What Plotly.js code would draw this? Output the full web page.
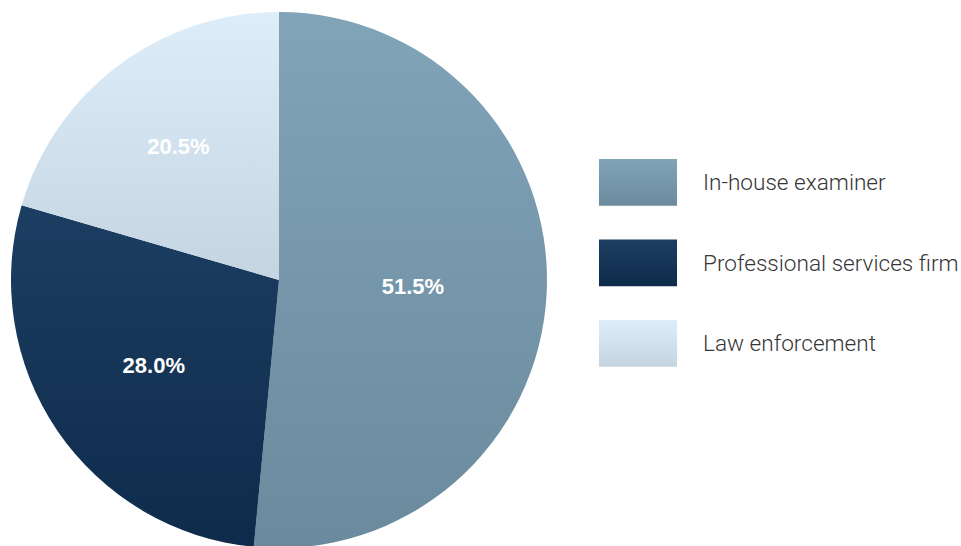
<!DOCTYPE html>
<html>
<head>
<meta charset="utf-8">
<script src="https://cdn.plot.ly/plotly-3.0.1.min.js"></script>
<style>
html,body{margin:0;padding:0;overflow:hidden;background:#fff;}
#chart{width:961px;height:560px;}
</style>
</head>
<body>
<div id="chart"></div>
<script>
// ---- data ----
var categories = ["In-house examiner", "Professional services firm", "Law enforcement"];
var shares = [51.5, 28.0, 20.5];
// gradient colours per category: [top, bottom]
var gradTop = ["#81a4b9", "#1c3e62", "#ddeefa"];
var gradBottom = ["#6b8a9d", "#0e2b4b", "#c4d4e1"];

var W = 961, H = 560;
var px = function (x) { return x / W; };
var py = function (y) { return 1 - y / H; };

var trace = {
  type: "pie",
  labels: categories,
  values: shares,
  sort: false,
  direction: "clockwise",
  rotation: 0,
  domain: { x: [px(11), px(547)], y: [py(548), py(12)] },
  marker: { colors: gradTop, line: { width: 0 } },
  texttemplate: "%{percent:.1%}",
  textposition: "inside",
  insidetextorientation: "horizontal",
  textfont: { family: "Liberation Sans, Arial, sans-serif", size: 22, color: "#ffffff", weight: "bold" },
  hoverinfo: "none",
  showlegend: false
};

var shapes = [], annotations = [];
categories.forEach(function (c, i) {
  var top = 159 + i * 80.5;
  shapes.push({
    type: "rect", xref: "paper", yref: "paper",
    x0: px(599), x1: px(677), y0: py(top + 46.7), y1: py(top),
    fillcolor: gradTop[i], line: { width: 0 }
  });
  annotations.push({
    xref: "paper", yref: "paper", x: px(701), y: py(top + 23.5),
    xanchor: "left", yanchor: "middle", showarrow: false,
    text: c,
    font: { family: "Roboto, Liberation Sans, sans-serif", size: 22.6, color: "#363636", weight: 300 }
  });
});

var layout = {
  width: W, height: H,
  margin: { l: 0, r: 0, t: 0, b: 0, pad: 0 },
  paper_bgcolor: "#ffffff",
  plot_bgcolor: "#ffffff",
  showlegend: false,
  shapes: shapes,
  annotations: annotations
};

Plotly.newPlot("chart", [trace], layout, { displayModeBar: false, staticPlot: true }).then(function (gd) {
  var svg = gd.querySelector("svg.main-svg");
  var ns = "http://www.w3.org/2000/svg";
  var defs = svg.querySelector("defs") || svg.insertBefore(document.createElementNS(ns, "defs"), svg.firstChild);
  categories.forEach(function (c, i) {
    var lg = document.createElementNS(ns, "linearGradient");
    lg.setAttribute("id", "grad" + i);
    lg.setAttribute("x1", "0"); lg.setAttribute("y1", "0");
    lg.setAttribute("x2", "0"); lg.setAttribute("y2", "1");
    var s1 = document.createElementNS(ns, "stop");
    s1.setAttribute("offset", "0"); s1.setAttribute("stop-color", gradTop[i]);
    var s2 = document.createElementNS(ns, "stop");
    s2.setAttribute("offset", "1"); s2.setAttribute("stop-color", gradBottom[i]);
    lg.appendChild(s1); lg.appendChild(s2);
    defs.appendChild(lg);
  });
  var slices = gd.querySelectorAll("g.slice path.surface");
  slices.forEach(function (p, i) { p.style.fill = "url(#grad" + i + ")"; });
  var rects = gd.querySelectorAll(".shapelayer path");
  rects.forEach(function (p, i) { p.style.fill = "url(#grad" + i + ")"; p.style.fillOpacity = 1; });
});
</script>
</body>
</html>
